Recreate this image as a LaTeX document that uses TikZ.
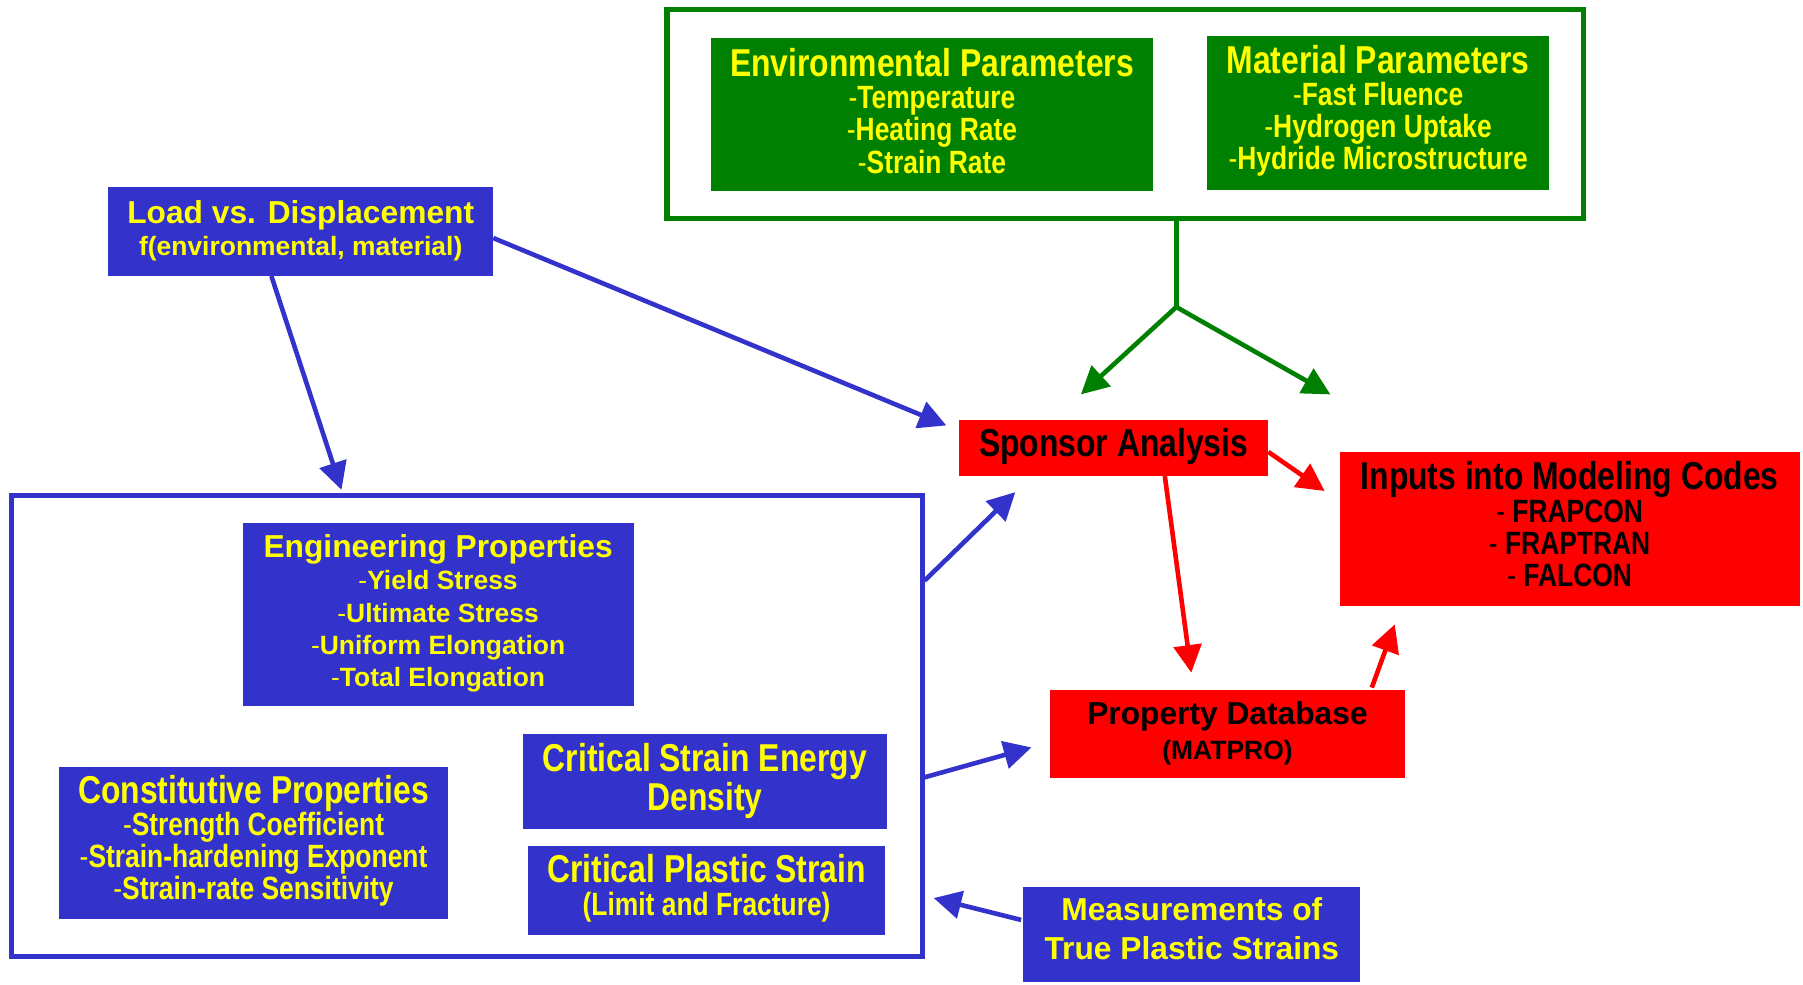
\documentclass[tikz,border=0pt]{standalone}
\usepackage{fontspec}
\setmainfont{Liberation Sans}
\newfontfamily\nar[FakeStretch=0.82]{Liberation Sans}
\usetikzlibrary{arrows.meta,calc}
\definecolor{cblue}{RGB}{51,51,204}
\definecolor{cgreen}{RGB}{0,128,0}
\definecolor{cred}{RGB}{255,0,0}
\definecolor{cyel}{RGB}{255,255,0}
\newcommand{\hy}{{\mdseries-}}
\tikzset{
  boxbase/.style={inner sep=0pt, anchor=center},
  bluebox/.style={boxbase, fill=cblue},
  greenbox/.style={boxbase, fill=cgreen},
  redbox/.style={boxbase, fill=cred},
  txt/.style={inner sep=0pt, align=center, anchor=center},
  ytxt/.style={txt, text=cyel},
  ktxt/.style={txt, text=black},
  regfont/.style={font=\bfseries\fontsize{23}{#1}\selectfont},
  narfont/.style={font=\nar\bfseries\fontsize{28}{#1}\selectfont},
  arr/.style={line width=4pt, -{Triangle[length=24pt,width=24pt]}},
  barr/.style={arr, draw=cblue},
  rarr/.style={arr, draw=cred},
  garr/.style={arr, draw=cgreen},
  frame/.style={line width=4.5pt, minimum width=#1, inner sep=0pt},
}
\newcommand{\RT}[1]{{\fontsize{27.6}{28}\selectfont #1}}
\newcommand{\NT}[1]{{\fontsize{33.8}{28}\selectfont #1}}
\begin{document}
\begin{tikzpicture}[x=1pt,y=-1pt]
\path[use as bounding box] (0,0) rectangle (1568,856);
% group frames
\node[frame=797pt, draw=cgreen, minimum height=182pt] (grp) at (978.5,99) {};
\node[frame=792pt, draw=cblue, minimum height=401pt] (props) at (406,631.5) {};
% green boxes
\node[greenbox, minimum width=385pt, minimum height=133pt] (env) at (810.5,99.5) {};
\node[ytxt, narfont=28] (env-t) at ($(env)+(0,-3)$)
  {\NT{Environmental Parameters}\\ \hy Temperature\\ \hy Heating Rate\\ \hy Strain Rate};
\node[greenbox, minimum width=297pt, minimum height=134pt] (mat) at (1198.5,98) {};
\node[ytxt, narfont=28] (mat-t) at ($(mat)+(0,-1.5)$)
  {\NT{Material Parameters}\\ \hy Fast Fluence\\ \hy Hydrogen Uptake\\ \hy Hydride Microstructure};
% blue boxes
\node[bluebox, minimum width=335pt, minimum height=77pt] (load) at (261.5,201.5) {};
\node[ytxt, regfont=28] (load-t) at ($(load)+(0,-1)$)
  {\RT{Load vs. Displacement}\\ f(environmental, material)};
\node[bluebox, minimum width=340pt, minimum height=159pt] (eng) at (381,534.5) {};
\node[ytxt, regfont=28] (eng-t) at ($(eng)+(0,-1)$)
  {\RT{Engineering Properties}\\ \hy Yield Stress\\ \hy Ultimate Stress\\ \hy Uniform Elongation\\ \hy Total Elongation};
\node[bluebox, minimum width=339pt, minimum height=132pt] (const) at (220.5,733) {};
\node[ytxt, narfont=28] (const-t) at ($(const)+(0,-2)$)
  {\NT{Constitutive Properties}\\ \hy Strength Coefficient\\ \hy Strain-hardening Exponent\\ \hy Strain-rate Sensitivity};
\node[bluebox, minimum width=316pt, minimum height=83pt] (csed) at (613,679.5) {};
\node[ytxt, narfont=34] (csed-t) at (csed)
  {\NT{Critical Strain Energy}\\ \NT{Density}};
\node[bluebox, minimum width=311pt, minimum height=77pt] (cps) at (614.5,774.5) {};
\node[ytxt, narfont=28] (cps-t) at ($(cps)+(0,-2)$)
  {\NT{Critical Plastic Strain}\\ (Limit and Fracture)};
\node[bluebox, minimum width=293pt, minimum height=83pt] (meas) at (1036.5,812.5) {};
\node[ytxt, regfont=34] (meas-t) at ($(meas)+(0,-4.5)$)
  {\RT{Measurements of}\\ \RT{True Plastic Strains}};
% red boxes
\node[redbox, minimum width=269pt, minimum height=49pt] (spon) at (968.5,389.5) {};
\node[ktxt, narfont=28] (spon-t) at ($(spon)+(0,-1)$) {\NT{Sponsor Analysis}};
\node[redbox, minimum width=400pt, minimum height=134pt] (inp) at (1365,460) {};
\node[ktxt, narfont=28] (inp-t) at ($(inp)+(0,-4)$)
  {\NT{Inputs into Modeling Codes}\\ \hy{} FRAPCON\\ \hy{} FRAPTRAN\\ \hy{} FALCON};
\node[redbox, minimum width=309pt, minimum height=77pt] (pdb) at (1067.5,638.5) {};
\node[ktxt, regfont=30] (pdb-t) at ($(pdb)+(0,-1)$)
  {\RT{Property Database}\\ (MATPRO)};
% connector end points
\coordinate (ld1) at (236,240);   \coordinate (pt1) at (297,426);
\coordinate (ld2) at (429,207);   \coordinate (sp1) at (823,370);
\coordinate (gs) at (1023,190);   \coordinate (gj) at (1023,267);
\coordinate (sp2) at (940,343);   \coordinate (in1) at (1157,343);
\coordinate (pr1) at (804,505);   \coordinate (sp3) at (883,428);
\coordinate (pr2) at (804,676);   \coordinate (pd1) at (897,650);
\coordinate (ms1) at (888,800);   \coordinate (pr3) at (812,781);
\coordinate (sp4) at (1103,393);  \coordinate (in2) at (1152,427);
\coordinate (sp5) at (1013,414);  \coordinate (pd2) at (1036,585);
\coordinate (pd3) at (1193,598);  \coordinate (in3) at (1213,543);
% connectors
\draw[barr] (ld1) -- (pt1);
\draw[barr] (ld2) -- (sp1);
\draw[cgreen, line width=4pt] (gs) -- (gj);
\draw[garr] (gj) -- (sp2);
\draw[garr] (gj) -- (in1);
\draw[barr] (pr1) -- (sp3);
\draw[barr] (pr2) -- (pd1);
\draw[barr] (ms1) -- (pr3);
\draw[rarr] (sp4) -- (in2);
\draw[rarr] (sp5) -- (pd2);
\draw[rarr] (pd3) -- (in3);
\end{tikzpicture}
\end{document}
